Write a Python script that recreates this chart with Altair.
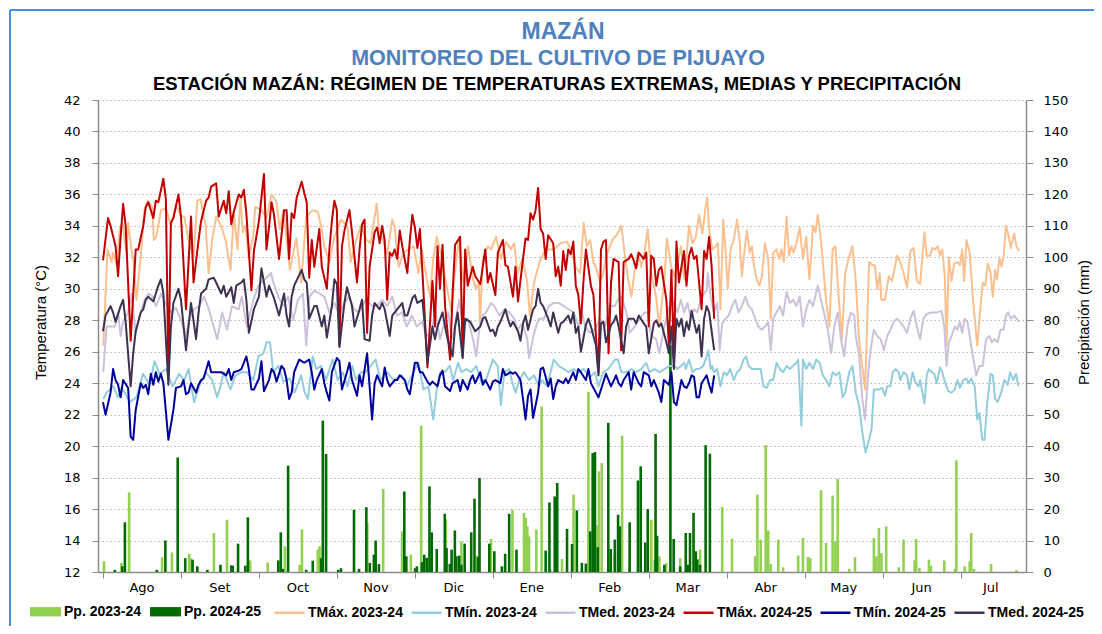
import altair as alt
import pandas as pd

# ---------------- data ----------------
TITULOS = ["MAZÁN", "MONITOREO DEL CULTIVO DE PIJUAYO",
           "ESTACIÓN MAZÁN: RÉGIMEN DE TEMPERATURAS EXTREMAS, MEDIAS Y PRECIPITACIÓN"]
MESES = ["Ago", "Set", "Oct", "Nov", "Dic", "Ene", "Feb", "Mar", "Abr", "May", "Jun", "Jul"]
MES_CENTRO = [15.5, 46.5, 77.5, 108.5, 139.5, 170.5, 201.5, 232.5, 263.5, 294.5, 325.5, 353]
MES_LIMITE = [0, 31, 62, 93, 124, 155, 186, 217, 248, 279, 310, 341]

NOMBRES_T = ["TMáx. 2023-24", "TMín. 2023-24", "TMed. 2023-24",
             "TMáx. 2024-25", "TMín. 2024-25", "TMed. 2024-25"]
COLORES_T = ["#FAC08F", "#93CDDD", "#CCC1DA", "#C00000", "#00009A", "#3F3151"]
NOMBRES_PP = ["Pp. 2023-24", "Pp. 2024-25"]
COLORES_PP = ["#92D050", "#006B00"]

# (day since 1 Aug, value)
TMAX_2425 = [(0,31.8),(2,34.5),(3,34.0),(5,32.7),(6,30.8),(7,33.3),(8,35.4),(9,34.0),(11,26.7),(13,32.5),(14,32.5),(16,34.0),(17,35.2),(18,35.5),(20,34.5),(21,35.6),(22,35.5),(24,37.0),(25,35.7),(26,24.7),(27,34.2),(28,34.5),(30,36.0),(31,34.6),(33,28.7),(35,34.6),(36,30.4),(38,33.1),(39,34.3),(41,35.6),(42,35.8),(43,36.5),(45,36.7),(46,34.6),(48,35.6),(49,34.8),(50,36.2),(51,34.1),(52,34.9),(54,36.0),(55,35.8),(56,36.3),(57,34.8),(59,29.9),(60,32.4),(62,34.3),(64,37.3),(65,32.5),(66,33.9),(67,35.5),(68,34.7),(70,31.9),(72,35.0),(73,35.0),(74,31.9),(75,34.8),(76,34.5),(77,35.8),(79,36.8),(80,36.1),(81,35.5),(82,30.7),(83,33.1),(84,31.4),(86,33.8),(87,31.4),(89,30.0),(90,32.5),(91,34.3),(92,35.6),(93,35.0),(94,26.4),(95,32.7),(96,33.7),(98,35.0),(99,33.6),(101,30.4),(102,32.5),(103,34.1),(104,34.4),(105,27.2),(106,31.4),(108,33.6),(109,33.9),(110,32.9),(111,34.0),(112,33.1),(113,29.3),(114,32.3),(115,32.1),(116,32.5),(117,31.9),(118,33.7),(119,32.7),(121,31.0),(122,33.1),(123,34.7),(124,33.9),(125,32.6),(126,33.8),(127,31.1),(129,25.0),(131,30.5),(132,27.6),(133,32.7),(134,30.0),(135,32.8),(136,28.9),(138,25.5),(139,29.7),(140,32.8),(142,33.3),(143,25.7),(144,32.5),(145,30.2),(147,31.4),(148,30.8),(150,30.3),(151,31.4),(152,32.5),(153,30.4),(154,31.0),(156,29.6),(157,32.3),(159,33.1),(160,31.5),(161,31.4),(163,29.5),(164,31.4),(165,29.2),(167,31.9),(168,33.2),(169,33.1),(170,34.8),(171,34.4),(172,35.0),(173,36.4),(174,33.8),(175,33.5),(176,31.9),(177,33.4),(179,32.9),(180,30.8),(181,31.4),(182,30.2),(183,32.4),(184,31.2),(185,32.5),(186,32.2),(187,33.0),(188,30.2),(189,29.6),(190,27.8),(191,30.4),(192,32.5),(194,30.2),(195,29.6),(196,27.0),(197,24.7),(198,32.5),(199,33.0),(200,33.1),(201,25.9),(202,30.4),(203,31.9),(205,31.7),(206,26.1),(207,31.7),(209,31.9),(210,32.2),(211,31.8),(212,31.3),(213,32.3),(215,31.9),(216,32.3),(217,27.6),(218,32.1),(219,31.9),(220,30.2),(221,31.2),(222,31.4),(224,29.3),(225,26.4),(226,31.2),(227,25.7),(228,33.0),(229,30.4),(230,31.4),(231,32.4),(232,30.2),(233,32.1),(234,32.6),(235,31.9),(236,32.1),(238,28.7),(239,32.4),(240,31.9),(241,33.3),(242,31.4),(243,28.1)]

TMED_2425 = [(0,27.3),(1,28.3),(3,28.9),(4,28.5),(5,27.9),(7,28.9),(8,29.3),(9,27.9),(11,23.8),(12,25.9),(13,27.3),(15,28.5),(16,28.7),(17,29.3),(18,29.5),(20,29.2),(21,29.7),(22,30.2),(23,30.6),(24,29.7),(26,23.9),(27,27.6),(28,29.1),(30,30.0),(31,29.3),(33,26.1),(34,27.6),(35,29.1),(37,26.8),(38,28.5),(39,29.7),(41,30.0),(42,30.6),(44,30.7),(45,30.4),(47,29.7),(48,30.2),(49,29.5),(51,30.1),(52,29.1),(53,30.2),(55,30.4),(56,30.6),(57,29.3),(58,27.2),(60,28.7),(62,29.5),(63,31.3),(65,29.5),(66,30.2),(68,29.4),(70,28.3),(72,29.7),(73,28.3),(74,27.6),(75,29.5),(76,30.2),(79,31.2),(80,30.6),(81,30.4),(82,28.1),(84,28.9),(85,28.9),(87,27.6),(88,28.3),(89,26.9),(91,28.9),(92,30.6),(93,30.3),(94,26.3),(96,29.1),(97,30.1),(99,28.9),(100,27.6),(102,28.7),(103,29.3),(104,26.8),(106,26.7),(107,28.3),(108,29.1),(110,28.7),(111,29.1),(112,28.7),(114,27.0),(115,28.3),(116,28.5),(118,28.9),(119,29.1),(120,28.3),(121,28.3),(123,29.4),(124,29.6),(125,29.1),(127,29.3),(128,27.6),(129,25.3),(131,27.6),(132,26.8),(133,27.6),(135,28.5),(136,27.6),(137,26.8),(139,25.7),(140,27.6),(141,28.5),(143,25.6),(144,28.1),(146,27.9),(147,27.6),(148,27.3),(150,27.6),(151,28.1),(152,28.2),(154,27.3),(155,27.4),(156,27.0),(157,27.6),(158,27.9),(160,28.7),(161,28.1),(162,27.6),(163,27.9),(165,27.3),(166,26.7),(167,27.8),(168,28.3),(169,27.4),(171,28.7),(172,28.9),(173,30.0),(174,29.1),(175,28.9),(177,28.1),(178,27.6),(179,28.5),(181,27.2),(182,27.8),(183,27.9),(185,28.3),(186,27.8),(187,28.5),(188,27.2),(189,27.6),(190,26.0),(192,27.7),(193,28.1),(194,27.6),(196,26.4),(197,24.5),(198,27.8),(199,27.9),(200,26.6),(202,27.7),(203,27.9),(204,28.3),(205,27.6),(207,25.9),(208,27.6),(209,28.1),(211,28.1),(212,27.8),(213,28.3),(215,27.8),(216,27.6),(217,25.9),(219,27.8),(220,28.0),(221,27.6),(222,27.8),(224,26.6),(225,25.9),(226,27.6),(227,24.9),(228,28.1),(229,27.6),(230,28.1),(231,27.0),(232,27.9),(233,27.4),(234,28.6),(236,27.2),(237,27.7),(238,25.7),(239,28.1),(240,28.9),(241,28.5),(243,26.1)]

TMIN_2425 = [(0,22.8),(1,22.0),(3,23.4),(4,24.9),(5,24.2),(6,23.9),(7,23.1),(8,24.2),(10,23.7),(11,20.6),(12,20.4),(13,22.3),(15,24.0),(16,23.7),(17,23.9),(18,23.3),(19,24.6),(20,23.9),(21,24.7),(22,24.1),(23,24.6),(24,24.0),(26,20.4),(28,22.3),(29,23.7),(31,23.8),(32,24.2),(33,23.3),(34,23.4),(35,24.0),(37,23.4),(38,23.9),(39,24.2),(40,24.3),(42,25.4),(43,24.7),(45,24.7),(47,24.7),(49,24.5),(50,24.9),(51,24.2),(52,24.7),(54,24.8),(55,24.9),(57,25.7),(58,24.9),(59,23.6),(60,23.6),(62,24.3),(63,25.4),(64,23.5),(66,24.2),(67,24.9),(68,24.7),(69,24.1),(71,25.1),(72,24.9),(73,24.2),(74,23.0),(75,23.4),(76,24.7),(78,25.5),(79,25.4),(80,25.3),(82,25.5),(83,24.7),(84,23.6),(85,24.2),(87,24.9),(88,24.0),(89,23.4),(90,22.9),(91,24.7),(93,25.6),(94,25.4),(95,23.6),(97,24.7),(98,25.3),(99,24.2),(101,23.2),(102,24.5),(103,23.8),(105,25.9),(106,23.8),(107,21.7),(108,24.0),(109,24.5),(111,23.8),(112,25.0),(113,24.2),(114,23.8),(116,24.2),(117,24.2),(118,24.5),(120,24.2),(121,23.6),(122,23.3),(124,25.3),(125,25.3),(126,24.7),(127,24.7),(129,24.1),(130,23.9),(131,24.1),(133,23.8),(134,24.5),(135,24.8),(136,23.8),(138,23.5),(139,24.0),(141,24.2),(142,23.5),(143,24.2),(145,23.6),(146,24.2),(147,24.5),(148,24.0),(150,24.7),(151,23.9),(152,24.2),(154,23.6),(155,24.1),(156,24.2),(158,24.0),(159,24.9),(160,24.5),(162,24.7),(163,24.6),(164,24.7),(166,24.2),(167,23.0),(168,21.7),(169,23.2),(170,23.6),(171,21.8),(173,23.4),(174,24.9),(175,25.0),(177,23.8),(178,24.3),(179,23.0),(180,23.8),(181,24.2),(183,24.0),(184,24.3),(185,24.0),(187,24.7),(188,24.2),(189,24.9),(190,24.7),(192,24.2),(193,24.9),(194,24.0),(196,23.4),(197,23.1),(198,23.6),(200,24.6),(201,24.2),(202,23.8),(204,24.5),(205,24.0),(206,23.8),(207,24.2),(209,24.7),(210,23.6),(211,24.7),(213,24.0),(214,23.8),(215,24.7),(217,24.5),(218,23.8),(219,24.2),(221,23.4),(222,22.8),(223,24.2),(225,23.9),(226,24.7),(227,22.8),(228,22.6),(229,23.4),(230,24.2),(231,23.8),(232,23.7),(233,24.0),(234,24.5),(235,24.4),(236,23.1),(237,23.1),(238,24.0),(240,24.5),(241,23.9),(242,23.4),(243,24.5)]

TMAX_2324 = [(0.1,26.4),(1.8,32.5),(3.4,31.7),(4,32.3),(5.4,31.5),(6.7,33.8),(7.7,34.2),(9.3,32.3),(10,34.2),(11.3,32.5),(12,31.9),(13.3,29.3),(15,32.0),(16.5,35.0),(17.8,35.6),(19.6,35.2),(20.2,33.1),(21.1,33.3),(23.1,35.0),(25.1,35.1),(27,34.0),(29,35.3),(31,34.6),(32.3,34.6),(34,33.1),(36,32.0),(37.5,35.6),(38.8,35.7),(40.8,34.0),(42,31.0),(43.4,33.1),(45,34.6),(47,34.0),(48.7,33.1),(50.7,31.2),(52,34.8),(53.5,32.5),(54.6,35.8),(55.6,33.6),(56.6,34.0),(58,32.0),(59.8,33.4),(60.5,35.2),(63,35.0),(65,34.5),(67,36.0),(69,35.5),(70.3,33.8),(71.7,35.0),(74.3,31.2),(76.2,32.7),(76.9,33.2),(78.8,30.4),(80.8,34.6),(83.4,35.0),(85.4,34.9),(86.7,34.0),(88,32.7),(90,31.7),(92,33.3),(94.6,34.4),(97.2,34.0),(98.5,31.7),(100.5,33.0),(102.5,34.0),(104.8,33.1),(106.4,32.9),(108.8,35.4),(109.7,33.8),(111.7,32.9),(113,32.2),(115,34.4),(115.9,34.0),(117.6,31.4),(119.5,32.3),(121.5,32.5),(123.5,32.7),(125.4,31.0),(126.8,32.5),(128.1,31.2),(130,29.5),(131.3,31.9),(132.7,33.3),(134.6,32.1),(136.6,30.2),(138.6,28.5),(139.9,31.0),(141.6,33.3),(143.2,30.4),(145.1,32.7),(147.1,30.6),(148.4,30.0),(149.4,30.4),(149.9,27.6),(151,31.9),(153,32.7),(154.3,32.5),(156.3,33.3),(158.2,31.9),(160.2,33.0),(162.2,32.5),(163.5,32.9),(164.8,31.0),(166.8,31.9),(168.7,30.4),(169.7,28.3),(171.4,30.4),(172.7,31.2),(174,31.9),(176,32.5),(177.3,32.5),(179.2,32.5),(181.9,32.9),(184.5,33.0),(186.5,32.3),(187.8,31.4),(189.7,31.0),(191.1,34.2),(192.4,32.7),(193.7,33.1),(195,31.7),(196.3,31.2),(197.6,30.4),(198.9,31.0),(200.2,32.1),(201.5,32.7),(202.9,33.2),(204.2,33.4),(206.1,34.0),(207.5,32.1),(208.8,30.6),(210.1,29.5),(211.4,31.2),(212.7,32.3),(214,31.4),(215.3,32.3),(216.6,33.8),(218,31.0),(219.9,29.5),(221.2,27.6),(223.2,30.6),(224.2,33.2),(225.8,31.5),(227.1,30.8),(228.4,31.5),(229.8,32.7),(231.1,30.6),(231.7,31.5),(233,34.0),(234.4,32.9),(235.7,33.3),(237,34.7),(238.3,33.5),(239.6,35.2),(240.3,35.8),(240.9,34.0),(242.2,32.5),(243.5,32.7),(244.5,32.9),(245.5,28.7),(246.6,34.4),(247.5,32.5),(248.4,30.0),(249.5,32.5),(250.8,33.1),(252.1,34.4),(253.1,33.1),(254,30.8),(255.1,32.5),(256,33.7),(257.1,32.3),(258,32.7),(258.9,31.4),(259.9,30.6),(261,30.2),(262,30.8),(263.2,32.9),(264.5,31.9),(265.5,28.1),(266.5,32.3),(267.8,32.5),(268.9,31.9),(269.8,32.5),(270.7,31.7),(271.8,34.6),(272.8,32.1),(273.7,32.7),(274.6,32.3),(275.7,32.9),(277,33.9),(278.3,31.9),(279.6,33.3),(280.9,30.6),(282.3,34.0),(283.3,33.6),(284.2,34.7),(285.1,33.6),(286.2,31.7),(287.5,29.3),(288.8,27.6),(290.1,32.5),(291.2,32.7),(292.5,29.5),(293.8,26.8),(295.1,31.0),(296.4,31.9),(298,32.7),(299.3,30.5),(300.6,26.8),(303,23.6),(304.6,31.7),(305.9,31.5),(306.9,31.5),(307.8,30.0),(308.8,31.0),(309.5,29.3),(310.9,29.3),(312.4,30.8),(313.7,30.5),(314.4,31.0),(315.7,32.1),(317,31.7),(318.3,31.0),(319.7,30.1),(321,32.4),(322.3,32.6),(323.6,30.5),(324.9,30.3),(326.6,33.6),(327.5,32.1),(328.8,32.1),(329.8,32.6),(330.8,32.5),(331.9,32.7),(332.8,32.1),(333.7,32.5),(334.7,30.8),(335.4,26.4),(336.3,32.0),(337.4,30.5),(338.4,31.6),(339.7,31.7),(340.7,31.5),(341.6,32.5),(342.4,30.5),(343.3,33.1),(344.6,32.3),(345.9,29.3),(347.6,26.4),(348.9,28.9),(349.8,30.4),(350.8,30.2),(351.8,31.6),(352.9,31.0),(353.8,29.5),(354.7,31.2),(355.5,30.6),(356.4,32.0),(357.3,31.4),(358.1,32.1),(359,34.0),(359.9,33.5),(360.9,32.6),(362.3,33.5),(363.2,32.7),(364.3,32.4)]

TMIN_2324 = [(0.1,23.0),(1.4,23.4),(4.1,23.8),(6,23.1),(7.3,23.7),(8.7,23.4),(10.6,22.8),(13.3,23.1),(15.9,24.6),(18.5,23.9),(20.5,25.4),(22.4,24.6),(25.1,24.9),(27.7,23.8),(30.3,24.6),(32.3,24.2),(34,24.9),(36.2,22.8),(38.2,23.8),(40.8,24.7),(43.4,24.2),(45.4,23.1),(46.7,23.8),(48,24.7),(50.7,23.6),(52.6,24.5),(55.2,24.7),(57.2,24.7),(59.8,24.2),(61.8,25.7),(63.8,25.9),(65.1,26.6),(66.4,26.6),(67.7,24.7),(69.7,25.1),(71.7,24.1),(74.3,24.3),(76.2,23.4),(78.8,24.5),(80.2,23.4),(81.5,23.0),(83.4,25.7),(84.8,24.9),(86.7,25.1),(88.7,24.2),(91.3,25.5),(93.3,24.2),(95.3,24.7),(97.2,23.8),(99.2,25.1),(100.5,24.2),(102.5,24.7),(104.4,24.7),(106.4,25.1),(108.4,25.5),(110.3,24.2),(113,24.7),(115.6,24.2),(118.9,24.5),(120.8,23.8),(123.5,24.7),(125.4,25.3),(127.4,23.6),(129.4,23.8),(131.3,21.7),(132.7,23.6),(134,24.7),(135.9,24.7),(137.9,25.1),(139.2,24.2),(141.2,25.3),(142.5,24.7),(144.5,24.9),(146.4,24.7),(148.4,25.1),(150.4,24.1),(152.3,24.2),(155,25.5),(156.9,25.1),(158.2,22.6),(159.6,24.7),(161.5,24.9),(162.8,24.0),(164.1,23.4),(165.5,24.2),(167.4,24.7),(169.4,24.2),(171.4,24.5),(173.3,23.8),(174.6,24.2),(176.6,23.8),(179.2,25.5),(181.2,25.1),(183.2,24.9),(185.1,24.7),(187.1,24.9),(189.1,24.7),(191.1,24.9),(193.7,24.4),(195.6,24.7),(197,23.8),(198.9,24.7),(200.9,24.9),(203.5,25.5),(204.8,25.5),(206.1,24.7),(208.1,24.7),(210.1,24.9),(212.1,24.7),(214,24.9),(216,25.3),(217.3,24.7),(219.3,24.9),(221.2,24.7),(223.2,24.9),(225.2,25.1),(227.1,25.1),(228.4,24.9),(229.8,25.1),(231.1,25.3),(231.7,24.9),(233,25.5),(234.4,24.7),(235.7,24.9),(237,24.9),(238.7,25.1),(240,25.7),(240.7,26.1),(241.6,24.9),(242.2,25.1),(242.9,24.7),(244.2,24.9),(245.5,23.8),(246.8,24.7),(248.1,24.5),(249.4,24.9),(250.8,24.2),(252.1,24.7),(253.4,24.9),(254.7,25.5),(255.7,25.7),(256.7,25.1),(258,24.9),(259.9,24.9),(261.5,24.9),(262.6,23.8),(263.9,23.7),(265.2,24.2),(266.5,24.2),(267.8,25.3),(269.1,24.9),(270.4,24.7),(271.8,25.1),(273.1,24.9),(274.4,25.1),(275.7,25.3),(276.4,25.5),(277,23.6),(277.7,21.3),(278.3,25.5),(279.6,24.9),(280.9,25.3),(282.3,24.9),(283.6,25.5),(284.9,25.3),(286.2,24.5),(287.5,24.2),(288.8,23.8),(290.1,24.7),(291.4,24.5),(292.8,24.7),(294.1,23.1),(295.1,23.4),(296.7,24.7),(298,25.1),(299.3,23.4),(300.6,22.6),(301.9,20.9),(303.2,19.6),(304.6,20.4),(305.6,21.1),(306.5,23.6),(308.5,23.6),(309.8,23.7),(310.9,23.2),(311.8,23.8),(313.1,23.8),(314,24.7),(315.1,24.9),(316.4,24.7),(317,24.2),(318.3,24.7),(319.7,24.5),(320.6,23.6),(321.9,24.7),(322.9,24.1),(324.2,23.8),(324.9,24.2),(325.8,23.4),(326.6,22.7),(327.5,24.5),(328.4,24.9),(329.5,24.7),(330.5,24.6),(331.5,24.0),(332.8,25.0),(333.7,24.7),(334.7,24.1),(336.1,23.5),(337.4,23.4),(338.7,23.6),(339.7,24.2),(340.7,23.7),(342,24.2),(343.3,24.3),(344.2,24.0),(345.2,24.3),(346.6,23.8),(347.6,21.7),(348.5,22.1),(349.6,20.4),(350.5,20.4),(351.5,22.6),(352.9,24.6),(353.8,24.5),(354.7,23.0),(355.7,22.8),(357.1,23.4),(358.4,24.2),(359.7,23.9),(360.7,24.7),(362,24.2),(363,24.6),(364,23.8)]

TMED_2324 = [(0.1,24.7),(1.4,27.6),(2.8,27.6),(4.7,27.6),(6,28.5),(7,27.0),(8,27.9),(10,28.5),(11.3,29.7),(13,27.2),(14.6,28.3),(16.5,29.3),(18.2,29.7),(19.8,29.5),(21.1,28.9),(23.1,29.7),(25.1,29.0),(27,28.5),(29,28.8),(31,28.0),(32.9,27.0),(34.3,28.1),(36.2,28.7),(38.2,28.9),(40.2,29.5),(42.1,28.7),(45.4,26.8),(47.4,28.5),(49.3,27.4),(51.3,28.9),(53.9,28.7),(55.2,29.5),(57.2,27.6),(59.8,29.3),(61.8,30.2),(64.4,30.6),(66.8,31.0),(67.7,30.4),(69.7,29.5),(71.7,28.9),(73.6,29.5),(75.6,28.0),(77.5,29.3),(79.5,29.7),(80.8,26.4),(82.1,29.5),(84.1,29.9),(86.1,29.7),(88,29.5),(90,28.5),(92,29.1),(94,28.3),(95.9,29.1),(97.9,29.5),(99.8,28.7),(101.8,28.5),(104.4,29.3),(107.1,28.9),(109,28.9),(111,29.3),(113,28.9),(115,29.5),(116.9,28.3),(118.9,28.5),(120.8,27.6),(122.8,28.3),(124.8,27.6),(126.8,27.9),(128.7,27.0),(130.7,27.2),(132,28.7),(134,26.8),(135.3,27.6),(137.3,28.5),(138.6,26.8),(139.9,27.6),(141.6,29.3),(143.2,27.6),(145.1,28.1),(147.1,26.8),(148.4,25.7),(149.7,27.6),(151,28.3),(152.3,28.5),(154.3,29.1),(155.6,28.9),(157.6,28.3),(159.6,28.7),(161.5,28.5),(163.5,28.1),(164.8,27.4),(166.8,27.8),(168.7,26.8),(169.4,25.6),(171.4,27.2),(173.3,28.1),(175.3,28.1),(177.3,28.9),(179.2,29.1),(181.2,29.1),(183.2,28.9),(185.1,28.7),(187.1,28.5),(189.1,27.6),(190.4,28.5),(191.7,27.6),(193.7,27.2),(195.6,27.4),(197.6,28.1),(199.6,27.6),(201.5,28.9),(203.5,28.9),(204.8,29.3),(206.1,29.5),(208.1,28.5),(209.4,27.2),(211.4,27.6),(213.4,28.1),(215.3,28.5),(216.6,28.5),(217.9,27.0),(219.9,26.8),(221.2,25.9),(223.2,27.6),(225.2,28.9),(227.1,29.1),(228.4,28.5),(229.8,29.3),(231.1,28.5),(232.4,29.1),(233.7,28.1),(235,28.7),(236.3,28.5),(237.6,29.3),(238.9,29.7),(240,29.9),(240.5,31.0),(241.6,29.5),(242.9,28.5),(244.2,29.1),(245.2,26.1),(246.2,27.8),(247.5,28.1),(248.8,28.3),(250.1,28.9),(251.4,29.3),(252.7,28.5),(254,28.9),(255.4,29.5),(256.7,28.9),(258,28.7),(259.3,28.1),(260.6,27.6),(261.9,27.4),(263.2,27.6),(264.5,27.9),(265.5,26.1),(266.5,28.1),(267.8,28.5),(269.1,28.9),(270.4,28.3),(271.8,29.8),(273.1,29.1),(274.4,29.3),(275.7,28.9),(277,29.5),(278.3,27.6),(279.6,28.7),(280.9,29.3),(282.3,28.9),(283.6,29.8),(284.2,30.2),(285.5,29.3),(286.9,28.3),(288.2,27.4),(289.5,25.9),(290.8,27.6),(292.1,28.5),(293.4,26.8),(294.7,25.7),(296,27.6),(297.3,28.5),(298.7,28.3),(299.3,27.0),(300.6,25.8),(301.9,23.0),(303,21.7),(304.3,24.7),(305.2,26.1),(306.5,27.4),(307.8,27.0),(309.2,26.8),(310.5,26.1),(311.8,27.0),(313.1,27.4),(314.4,27.9),(315.7,28.1),(317,27.9),(318.3,27.6),(319.7,27.2),(321,28.1),(322.3,28.6),(323.6,27.6),(324.9,26.8),(326.2,28.1),(327.5,28.4),(329.5,28.5),(331.5,28.5),(333.4,28.6),(334.5,27.6),(335.4,25.1),(336.3,26.6),(337.4,27.0),(338.7,27.6),(339.7,27.4),(340.7,27.9),(341.6,27.2),(342.6,28.1),(343.7,27.9),(344.6,27.0),(345.9,25.7),(347.2,24.5),(348.5,25.1),(349.8,25.1),(351.1,26.8),(352.5,27.0),(353.4,26.6),(354.4,26.8),(355.7,26.6),(356.8,27.4),(358.1,27.4),(359,28.3),(359.9,28.5),(361,28.1),(362.3,28.3),(363.2,28.1),(364.3,27.9)]

PP_2324 = [(0.4,3.4),(7.3,2.9),(10.4,25.3),(23.5,4.7),(27.4,6.2),(34.3,5.8),(35.0,4.4),(44.1,12.4),(49.3,16.6),(58.5,3.7),(65.5,3.0),(72.3,8.2),(78.2,2.3),(79.1,13.5),(85.4,7.1),(86.1,8.2),(105.1,15.6),(111.4,26.4),(118.9,12.9),(122.4,5.5),(126.5,46.5),(127.4,3.0),(136.3,16.6),(142.5,9.7),(148.7,5.2),(154.3,10.5),(162.8,19.8),(167.4,18.8),(168.1,17.2),(168.7,14.5),(169.4,11.3),(172.3,13.5),(174.4,52.6),(177.9,0.8),(182.5,4.1),(187.1,24.6),(193.0,57.2),(193.7,12.4),(196.7,15.0),(197.2,32.0),(198.3,34.6),(200.9,2.9),(203.5,5.5),(206.4,43.3),(209.4,1.8),(218.0,16.6),(219.3,3.9),(221.2,5.0),(223.9,2.9),(229.5,4.4),(237.4,7.1),(246.2,20.7),(250.1,10.6),(259.3,5.0),(260.2,24.6),(261.5,10.3),(263.5,40.3),(264.5,13.2),(265.5,2.6),(268.5,10.3),(270.4,1.5),(276.4,5.2),(278.3,10.8),(280.3,4.8),(281.2,4.4),(285.5,26.0),(287.5,9.2),(290.1,24.3),(291.2,9.7),(292.1,29.6),(296.7,1.0),(299.0,4.7),(306.5,10.8),(307.5,5.0),(308.5,14.0),(309.5,6.0),(311.4,14.5),(316.4,1.5),(318.3,10.3),(322.7,3.7),(323.3,10.5),(324.6,1.3),(328.4,3.9),(329.2,2.0),(334.5,3.7),(338.7,1.0),(339.3,35.5),(342.6,1.8),(344.6,3.4),(345.2,12.4),(346.3,1.0),(353.1,2.5),(363.2,0.6)]

PP_2425 = [(4.7,0.7),(7.7,1.8),(8.7,15.8),(21.4,0.7),(24.8,10.0),(29.7,36.4),(32.7,4.4),(35.6,3.9),(37.5,1.8),(41.5,0.7),(46.7,2.3),(51.0,2.1),(51.6,2.0),(53.7,9.0),(56.6,2.0),(57.6,17.4),(69.7,3.7),(70.7,12.6),(71.5,1.0),(73.6,33.8),(80.8,0.7),(83.4,3.6),(86.7,4.4),(87.4,48.1),(88.7,37.5),(93.5,0.7),(94.6,1.2),(99.8,19.8),(101.8,1.0),(104.7,20.6),(106.1,2.9),(107.7,5.5),(108.4,10.0),(109.7,2.5),(119.8,25.6),(120.6,5.0),(124.1,1.2),(124.8,1.8),(126.8,3.1),(127.7,5.5),(128.7,4.5),(129.8,27.2),(130.7,12.6),(132.7,7.3),(135.9,18.5),(136.6,7.6),(137.9,2.6),(138.6,7.1),(139.9,13.2),(140.5,5.0),(141.6,5.2),(142.5,2.3),(143.8,9.0),(146.4,12.6),(147.7,23.3),(149.1,4.7),(149.7,29.9),(153.6,9.0),(155.6,6.6),(158.6,1.8),(159.9,5.8),(161.5,18.5),(164.4,7.1),(176.0,6.8),(177.5,22.1),(179.6,24.0),(180.6,28.3),(184.5,13.7),(186.5,8.9),(188.4,19.6),(190.4,2.9),(192.0,2.7),(193.7,12.9),(194.7,37.8),(195.6,38.1),(196.7,7.9),(200.9,47.4),(201.9,7.3),(203.5,10.3),(204.8,18.2),(205.5,14.5),(209.4,15.8),(212.7,29.1),(213.8,33.6),(215.6,9.4),(216.6,20.0),(219.7,43.9),(220.3,11.5),(223.2,2.3),(225.6,72.0),(226.9,10.5),(229.5,1.8),(231.7,12.4),(232.6,2.3),(233.4,12.4),(234.8,18.8),(235.7,6.6),(236.3,4.0),(237.4,2.3),(239.6,40.3),(241.3,37.6)]


def tabla(pares, nombre):
    return pd.DataFrame({"dia": [p[0] for p in pares],
                         "valor": [p[1] for p in pares],
                         "serie": nombre})


t_2324 = pd.concat([tabla(TMAX_2324, NOMBRES_T[0]), tabla(TMIN_2324, NOMBRES_T[1]),
                    tabla(TMED_2324, NOMBRES_T[2])], ignore_index=True)
t_2425 = pd.concat([tabla(TMAX_2425, NOMBRES_T[3]), tabla(TMIN_2425, NOMBRES_T[4]),
                    tabla(TMED_2425, NOMBRES_T[5])], ignore_index=True)
pp = pd.concat([tabla(PP_2324, NOMBRES_PP[0]), tabla(PP_2425, NOMBRES_PP[1])],
               ignore_index=True)
meses = pd.DataFrame({"mes": MESES, "dia": MES_CENTRO})

# ---------------- encodings ----------------
TXT = "Liberation Sans, Arial, sans-serif"
GRIS = "#8C8C8C"

x_enc = alt.X("dia:Q",
              scale=alt.Scale(domain=[0, 365], nice=False, zero=False),
              axis=alt.Axis(values=MES_LIMITE, labels=False, ticks=True, tickSize=6,
                            grid=False, title=None, domainColor=GRIS, tickColor=GRIS,
                            domainWidth=1.5))

y_temp = alt.Y("valor:Q",
               scale=alt.Scale(domain=[12, 42], nice=False, zero=False),
               axis=alt.Axis(orient="left", values=list(range(12, 43, 2)), grid=True,
                             gridDash=[1.5, 2.5], gridColor="#B8B8B8", tickSize=6,
                             labelPadding=12, domainColor=GRIS, tickColor=GRIS,
                             domainWidth=1.5,
                             title="Temperatura (°C)", titleX=-58, titleY=222,
                             titleAngle=270, titleAlign="center", titleBaseline="middle",
                             titleFont=TXT, titleFontSize=15, titleFontWeight="normal"))

y_pp = alt.Y("valor:Q", stack=None,
             scale=alt.Scale(domain=[0, 150], nice=False, zero=True),
             axis=alt.Axis(orient="right", values=list(range(0, 151, 10)), grid=False,
                           tickSize=7, labelPadding=10, domainColor=GRIS, tickColor=GRIS,
                           domainWidth=1.5,
                           title="Precipitación (mm)", titleX=57, titleY=222,
                           titleAngle=270, titleAlign="center", titleBaseline="middle",
                           titleFont=TXT, titleFontSize=15, titleFontWeight="normal"))

leg_common = dict(orient="none", direction="horizontal", title=None,
                  labelFont=TXT, labelFontWeight="bold", labelFontSize=14,
                  labelColor="black", labelLimit=300, padding=0)

barras = alt.Chart(pp).mark_bar(size=2.6).encode(
    x=x_enc,
    y=y_pp,
    color=alt.Color("serie:N",
                    scale=alt.Scale(domain=NOMBRES_PP, range=COLORES_PP),
                    sort=NOMBRES_PP,
                    legend=alt.Legend(legendX=-68, legendY=496, columns=2,
                                      symbolType="M-1,-0.3H1V0.3H-1Z", symbolSize=961,
                                      symbolStrokeWidth=0, labelOffset=3,
                                      columnPadding=8, **leg_common)),
)

stroke_enc = alt.Stroke("serie:N",
                        scale=alt.Scale(domain=NOMBRES_T, range=COLORES_T),
                        sort=NOMBRES_T,
                        legend=alt.Legend(legendX=175, legendY=496, columns=6,
                                          symbolType="stroke", symbolSize=900,
                                          symbolStrokeWidth=2.5, labelOffset=2,
                                          columnPadding=3, **leg_common))

lineas_a = alt.Chart(t_2324).mark_line(strokeWidth=2, strokeJoin="round").encode(
    x=x_enc, y=y_temp, stroke=stroke_enc, detail="serie:N")
lineas_b = alt.Chart(t_2425).mark_line(strokeWidth=2, strokeJoin="round").encode(
    x=x_enc, y=y_temp, stroke=stroke_enc, detail="serie:N")

etiquetas = alt.Chart(meses).mark_text(font="DejaVu Sans", fontSize=13,
                                       baseline="middle", color="black").encode(
    x=x_enc, y=alt.value(488), text="mes:N")

tit = pd.DataFrame({"t": TITULOS})
titulo1 = alt.Chart(tit).transform_filter(alt.datum.t == TITULOS[0]).mark_text(
    font=TXT, fontSize=23, fontWeight="bold", color="#4F81BD", baseline="middle"
).encode(x=alt.value(465), y=alt.value(-68), text="t:N")
titulo2 = alt.Chart(tit).transform_filter(alt.datum.t == TITULOS[1]).mark_text(
    font=TXT, fontSize=21.5, fontWeight="bold", color="#4F81BD", baseline="middle"
).encode(x=alt.value(460), y=alt.value(-41), text="t:N")
titulo3 = alt.Chart(tit).transform_filter(alt.datum.t == TITULOS[2]).mark_text(
    font=TXT, fontSize=18.5, fontWeight="bold", color="black", baseline="middle"
).encode(x=alt.value(459), y=alt.value(-16), text="t:N")

borde = alt.Chart(pd.DataFrame({"k": [0]}))
borde_izq = borde.mark_rule(color="#4A8FD8", strokeWidth=2).encode(
    x=alt.value(-88), y=alt.value(-90), y2=alt.value(540))
borde_sup = borde.mark_rule(color="#4A8FD8", strokeWidth=2).encode(
    x=alt.value(-88), x2=alt.value(1000), y=alt.value(-90))

temps = alt.layer(lineas_a, lineas_b, etiquetas, titulo1, titulo2, titulo3,
                  borde_izq, borde_sup)

chart = alt.layer(barras, temps).resolve_scale(y="independent").properties(
    width=928, height=472,
    padding={"left": 90, "top": 92, "right": 68, "bottom": 54},
    autosize=alt.AutoSizeParams(type="none"),
).configure_view(stroke=None).configure_axis(
    labelFont="DejaVu Sans", labelFontSize=13, labelColor="black", titleColor="black"
)

chart.save("out.html", embed_options={"renderer": "svg", "actions": False})
